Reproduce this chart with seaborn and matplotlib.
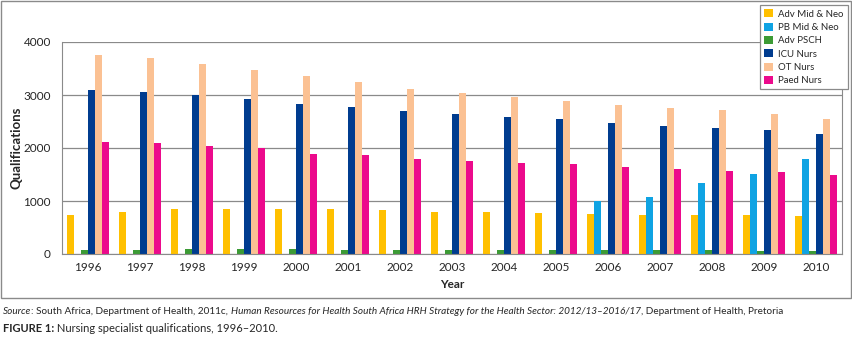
import numpy as np
import pandas as pd
import matplotlib
matplotlib.use('Agg')
import matplotlib.pyplot as plt
import seaborn as sns
from matplotlib.patches import Rectangle

# 데이터
years = list(range(1996, 2011))
series_names = ['Adv Mid & Neo', 'PB Mid & Neo', 'Adv PSCH', 'ICU Nurs', 'OT Nurs', 'Paed Nurs']
adv_mid_neo = [735, 800, 850, 850, 850, 850, 830, 800, 790, 770, 760, 740, 730, 730, 710]
pb_mid_neo = [0, 0, 0, 0, 0, 0, 0, 0, 0, 0, 1000, 1080, 1340, 1510, 1790]
adv_psch = [80, 80, 85, 85, 85, 80, 80, 75, 80, 75, 75, 75, 75, 60, 65]
icu_nurs = [3090, 3060, 3000, 2930, 2830, 2770, 2690, 2650, 2590, 2540, 2470, 2410, 2380, 2340, 2260]
ot_nurs = [3760, 3700, 3580, 3480, 3360, 3250, 3110, 3030, 2970, 2880, 2820, 2750, 2720, 2640, 2550]
paed_nurs = [2120, 2090, 2030, 2000, 1890, 1860, 1800, 1760, 1710, 1700, 1640, 1600, 1560, 1540, 1500]
colors = ['#FFC000', '#0FA3E3', '#3C9B35', '#003C8F', '#FBC193', '#EC0A8C']

df = pd.DataFrame({'Year': [str(y) for y in years]})
for name, vals in zip(series_names, [adv_mid_neo, pb_mid_neo, adv_psch, icu_nurs, ot_nurs, paed_nurs]):
    df[name] = vals
long = df.melt(id_vars='Year', var_name='Series', value_name='Qualifications')

sns.set_style('white')
plt.rcParams['font.family'] = ['Lato', 'DejaVu Sans']

fig = plt.figure(figsize=(8.52, 3.37), dpi=100)
ax = fig.add_axes([62/852, 1-254/337, 780/852, 212/337])

sns.barplot(data=long, x='Year', y='Qualifications', hue='Series', hue_order=series_names,
            palette=colors, errorbar=None, width=0.81, saturation=1, ax=ax, linewidth=0)

ax.set_ylim(0, 4000)
ax.set_xlim(-0.5, len(years) - 0.5)
ax.set_yticks([0, 1000, 2000, 3000, 4000])
ax.yaxis.grid(True, color='#8a8a8a', lw=0.9)
ax.set_axisbelow(True)
for s in ['left', 'right', 'bottom']:
    ax.spines[s].set_color('#8a8a8a')
ax.spines['top'].set_visible(False)
ax.tick_params(axis='y', length=3, color='#8a8a8a', labelsize=8.5, pad=5)
ax.tick_params(axis='x', which='major', length=0, labelsize=8.5, pad=6)
ax.set_xticks(np.arange(-0.5, len(years), 1), minor=True)
ax.tick_params(axis='x', which='minor', length=3, color='#8a8a8a')
ax.set_xlabel('Year', fontsize=8.5, fontweight='bold', labelpad=4)
ax.set_ylabel('Qualifications', fontsize=9.5, fontweight='bold')
ax.yaxis.set_label_coords(-0.051, 0.5)

ax.legend_.remove()
handles, labels = ax.get_legend_handles_labels()
leg = fig.legend(handles[:6], labels[:6], loc='upper right', bbox_to_anchor=(848/852, 1-5/337),
                 borderaxespad=0, fontsize=6.9, frameon=True, fancybox=False, edgecolor='#8a8a8a',
                 handlelength=0.9, handleheight=0.9, handletextpad=0.55, labelspacing=0.42,
                 borderpad=0.45, framealpha=1)
leg.get_frame().set_linewidth(0.9)

# 바깥 테두리
fig.patches.append(Rectangle((1/852, 1-298/337), 850/852, 297/337, transform=fig.transFigure,
                             fill=False, edgecolor='#8a8a8a', lw=1))

# 출처 / 그림 설명 (부분 이탤릭)
renderer = fig.canvas.get_renderer()

def write_line(parts, x, y, size):
    for txt, style, weight in parts:
        t = fig.text(x, y, txt, fontsize=size, style=style, fontweight=weight,
                     va='center', ha='left')
        bb = t.get_window_extent(renderer=renderer)
        x += bb.width / fig.bbox.width

write_line([('Source', 'italic', 'normal'),
            (': South Africa, Department of Health, 2011c, ', 'normal', 'normal'),
            ('Human Resources for Health South Africa HRH Strategy for the Health Sector: 2012/13\u20132016/17', 'italic', 'normal'),
            (', Department of Health, Pretoria', 'normal', 'normal')],
           3/852, 1-311/337, 7.2)
write_line([('FIGURE 1:', 'normal', 'bold'),
            (' Nursing specialist qualifications, 1996\u20132010.', 'normal', 'normal')],
           3/852, 1-329/337, 8)

fig.savefig('out.png', dpi=100)
